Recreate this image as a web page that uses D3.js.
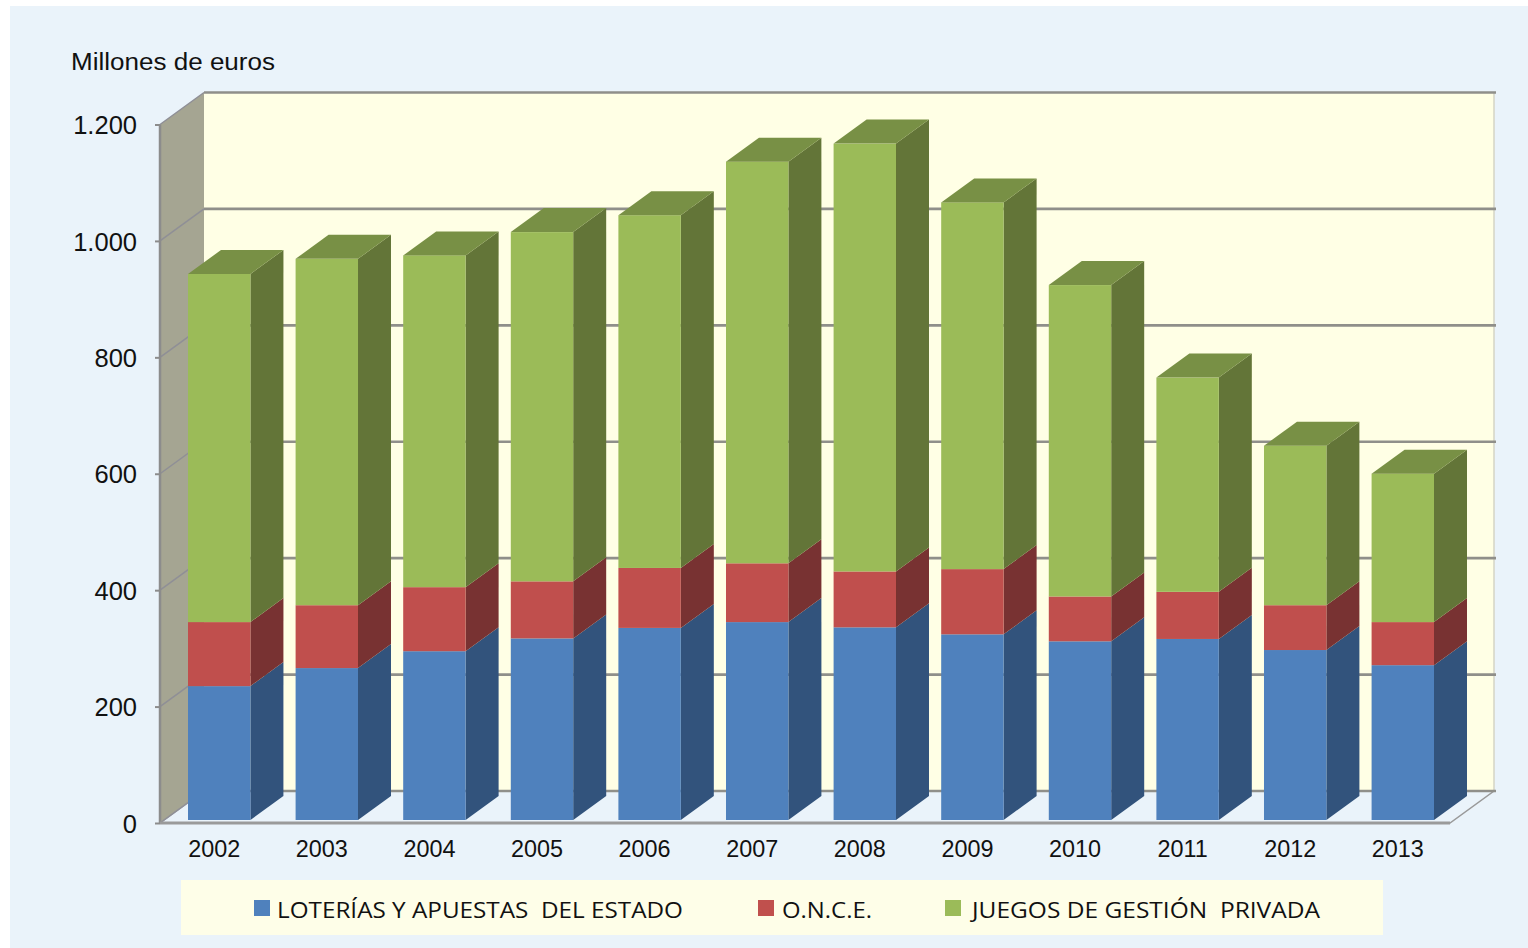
<!DOCTYPE html>
<html lang="es">
<head>
<meta charset="UTF-8">
<title>Millones de euros</title>
<script src="https://d3js.org/d3.v7.min.js"></script>
<style>
    html, body { margin: 0; padding: 0; background: #fff; }
    svg { display: block; }
    .tick text { font-family: "Liberation Sans", sans-serif; fill: #111; }
</style>
</head>
<body>
<svg id="chart" width="1528" height="948"></svg>
<script>
const years = ["2002","2003","2004","2005","2006","2007","2008","2009","2010","2011","2012","2013"];
const loterias = [230, 261, 290, 312, 330, 340, 331, 319, 307, 311, 292, 266];
const once = [110, 108, 110, 98, 103, 101, 96, 112, 77, 81, 77, 74];
const privada = [598, 595, 570, 600, 606, 690, 735, 630, 535, 368, 274, 255];
const yTicks = [0, 200, 400, 600, 800, 1000, 1200];
const seriesNames = ["LOTERÍAS Y APUESTAS  DEL ESTADO", "O.N.C.E.", "JUEGOS DE GESTIÓN  PRIVADA"];

const colors = [
    { front: "#4f81bd", side: "#31527b", top: "#3f6797" },
    { front: "#c0504d", side: "#783230", top: "#99403d" },
    { front: "#9bbb59", side: "#647537", top: "#789044" }
];

const svg = d3.select("#chart");
const locale = d3.formatLocale({ decimal: ",", thousands: ".", grouping: [3], currency: ["", "€"] });

const y = d3.scaleLinear().domain([0, 1200]).range([823, 124.5]);
const x = d3.scaleBand().domain(years).range([188, 1434]).paddingInner(0.42).paddingOuter(0);

// depth of the walls and of the bars
const wallDx = 44, wallDy = -32;
const barDx = 33, barDy = -24;
const barBase = -3; // bars stand a bit behind the front edge of the floor
const left = 160, right = 1450;

svg.append("rect").attr("x", 10).attr("y", 6).attr("width", 1518).attr("height", 942).attr("fill", "#eaf3fa");

const soft = svg.append("defs").append("filter").attr("id", "soft");
soft.append("feGaussianBlur").attr("stdDeviation", 0.5);

const g = svg.append("g").attr("filter", "url(#soft)");
const pts = a => a.map(p => p.join(",")).join(" ");

// back wall
g.append("rect")
    .attr("x", left + wallDx).attr("y", y(1200) + wallDy)
    .attr("width", right - left).attr("height", y(0) - y(1200))
    .attr("fill", "#ffffe5");
g.append("line")
    .attr("x1", right + wallDx).attr("x2", right + wallDx)
    .attr("y1", y(1200) + wallDy).attr("y2", y(0) + wallDy)
    .attr("stroke", "#d5d5c4").attr("stroke-width", 1.5);

// side wall
g.append("polygon")
    .attr("points", pts([[left, y(0)], [left, y(1200)], [left + wallDx, y(1200) + wallDy], [left + wallDx, y(0) + wallDy]]))
    .attr("fill", "#a5a592");

// floor
g.append("polygon")
    .attr("points", pts([[left, y(0)], [left + wallDx, y(0) + wallDy], [right + wallDx, y(0) + wallDy], [right, y(0)]]))
    .attr("fill", "#eaf3fa").attr("stroke", "#9a9a9a").attr("stroke-width", 1.5);

// grid on both walls
yTicks.forEach(t => {
    g.append("line")
        .attr("x1", left + wallDx).attr("x2", right + wallDx + 2)
        .attr("y1", y(t) + wallDy).attr("y2", y(t) + wallDy)
        .attr("stroke", "#8f8f8a").attr("stroke-width", 2.6);
    g.append("line")
        .attr("x1", left).attr("x2", left + wallDx)
        .attr("y1", y(t)).attr("y2", y(t) + wallDy)
        .attr("stroke", "#8f8f96").attr("stroke-width", 1.5);
});

// front edges
g.append("line").attr("x1", left).attr("x2", left).attr("y1", y(1200)).attr("y2", y(0))
    .attr("stroke", "#8c8c8c").attr("stroke-width", 2.5);
g.append("line").attr("x1", left).attr("x2", right).attr("y1", y(0)).attr("y2", y(0))
    .attr("stroke", "#9a9a9a").attr("stroke-width", 3);

// stacked bars
const stack = d3.stack().keys([0, 1, 2]).value((d, k) => d[k]);
const rows = years.map((yr, i) => [loterias[i], once[i], privada[i]]);
const layers = stack(rows);

years.forEach((yr, i) => {
    const x0 = x(yr), w = x.bandwidth();
    const bar = g.append("g");
    layers.forEach((layer, k) => {
        const yLow = y(layer[i][0]) + barBase, yHigh = y(layer[i][1]) + barBase;
        bar.append("polygon")
            .attr("points", pts([[x0 + w, yLow], [x0 + w + barDx, yLow + barDy], [x0 + w + barDx, yHigh + barDy], [x0 + w, yHigh]]))
            .attr("fill", colors[k].side);
        bar.append("rect")
            .attr("x", x0).attr("y", yHigh).attr("width", w).attr("height", yLow - yHigh)
            .attr("fill", colors[k].front);
        if (k === 2) {
            bar.append("polygon")
                .attr("points", pts([[x0, yHigh], [x0 + barDx, yHigh + barDy], [x0 + w + barDx, yHigh + barDy], [x0 + w, yHigh]]))
                .attr("fill", colors[k].top);
        }
    });
});

// axes
const yAxis = svg.append("g")
    .attr("transform", `translate(${left},0)`)
    .call(d3.axisLeft(y).tickValues(yTicks).tickFormat(locale.format(",d")).tickSize(5).tickPadding(18));
yAxis.select(".domain").remove();
yAxis.selectAll("line").attr("stroke", "#8c8c8c").attr("stroke-width", 2);
yAxis.selectAll("text").attr("font-size", 25.5).attr("dy", "0.36em");

const xAxis = svg.append("g")
    .attr("transform", `translate(-5,${y(0)})`)
    .call(d3.axisBottom(x).tickSize(0).tickPadding(17));
xAxis.select(".domain").remove();
xAxis.selectAll("text").attr("font-size", 23.4);

svg.append("text")
    .attr("x", 71).attr("y", 70)
    .attr("font-family", "'Liberation Sans', sans-serif").attr("font-size", 23.5)
    .attr("fill", "#111")
    .attr("textLength", 204).attr("lengthAdjust", "spacingAndGlyphs")
    .text("Millones de euros");

// legend
svg.append("rect").attr("x", 181).attr("y", 880).attr("width", 1202).attr("height", 55).attr("fill", "#fefee8");
const legendX = [254, 758, 945];
const legendText = [277, 782, 972];
const legendLen = [406, 90, 348];
seriesNames.forEach((name, k) => {
    svg.append("rect").attr("x", legendX[k]).attr("y", 900).attr("width", 16).attr("height", 16).attr("fill", colors[k].front);
    svg.append("text")
        .attr("x", legendText[k]).attr("y", 918)
        .attr("font-family", "'Open Sans', sans-serif").attr("font-size", 22.5)
        .attr("fill", "#111")
        .attr("xml:space", "preserve").style("white-space", "pre")
        .attr("textLength", legendLen[k]).attr("lengthAdjust", "spacingAndGlyphs")
        .text(name);
});
</script>
</body>
</html>
